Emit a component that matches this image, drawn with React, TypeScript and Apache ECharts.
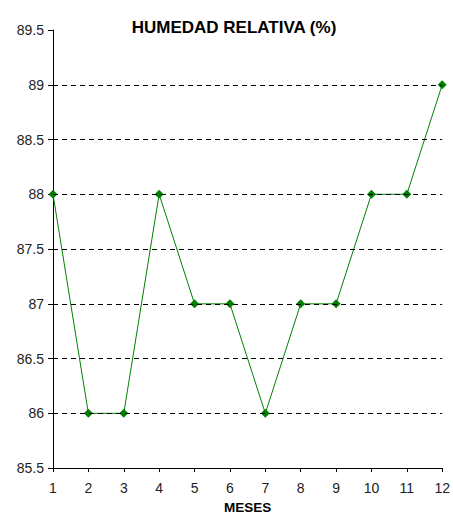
import React, { useEffect, useRef } from "react";
import * as echarts from "echarts";

const months = ["1", "2", "3", "4", "5", "6", "7", "8", "9", "10", "11", "12"];
const humidity = [88, 86, 86, 88, 87, 87, 86, 87, 87, 88, 88, 89];
const gridValues = [86, 86.5, 87, 87.5, 88, 88.5, 89];

export default function App() {
  const ref = useRef<HTMLDivElement>(null);
  useEffect(() => {
    const chart = echarts.init(ref.current!, null, { renderer: "svg" });
    chart.setOption({
      animation: false,
      backgroundColor: "#fff",
      title: {
        text: "HUMEDAD RELATIVA (%)",
        left: 229,
        textAlign: "center",
        top: 14,
        textStyle: { fontFamily: "Liberation Sans", fontWeight: "bold", fontSize: 17, color: "#000" },
      },
      grid: { left: 53, right: 10, top: 30, bottom: 49 },
      xAxis: {
        type: "category",
        data: months,
        boundaryGap: false,
        name: "MESES",
        nameLocation: "middle",
        nameGap: 29,
        nameTextStyle: { fontFamily: "Liberation Sans", fontWeight: "bold", fontSize: 13.5, color: "#000" },
        axisLine: { lineStyle: { color: "#000", width: 1 } },
        axisTick: { alignWithLabel: true, length: 4, lineStyle: { color: "#000" } },
        axisLabel: { fontFamily: "Liberation Sans", fontSize: 14, color: "#222", margin: 13 },
        splitLine: { show: false },
      },
      yAxis: {
        type: "value",
        min: 85.5,
        max: 89.5,
        interval: 0.5,
        axisLine: { show: true, lineStyle: { color: "#000", width: 1 } },
        axisTick: { show: true, length: 5, lineStyle: { color: "#000" } },
        axisLabel: { fontFamily: "Liberation Sans", fontSize: 14, color: "#222", margin: 9 },
        splitLine: { show: false },
      },
      series: [
        {
          type: "line",
          data: humidity,
          symbol: "diamond",
          symbolSize: 9,
          itemStyle: { color: "#008000" },
          lineStyle: { color: "#008000", width: 1 },
          markLine: {
            silent: true,
            symbol: "none",
            label: { show: false },
            lineStyle: { color: "#000", type: [5, 4], width: 1 },
            data: gridValues.map((v) => ({ yAxis: v })),
          },
          z: 3,
        },
      ],
    });
    return () => chart.dispose();
  }, []);
  return <div ref={ref} style={{ width: 453, height: 519, position: "absolute", left: 0, top: 0 }} />;
}
